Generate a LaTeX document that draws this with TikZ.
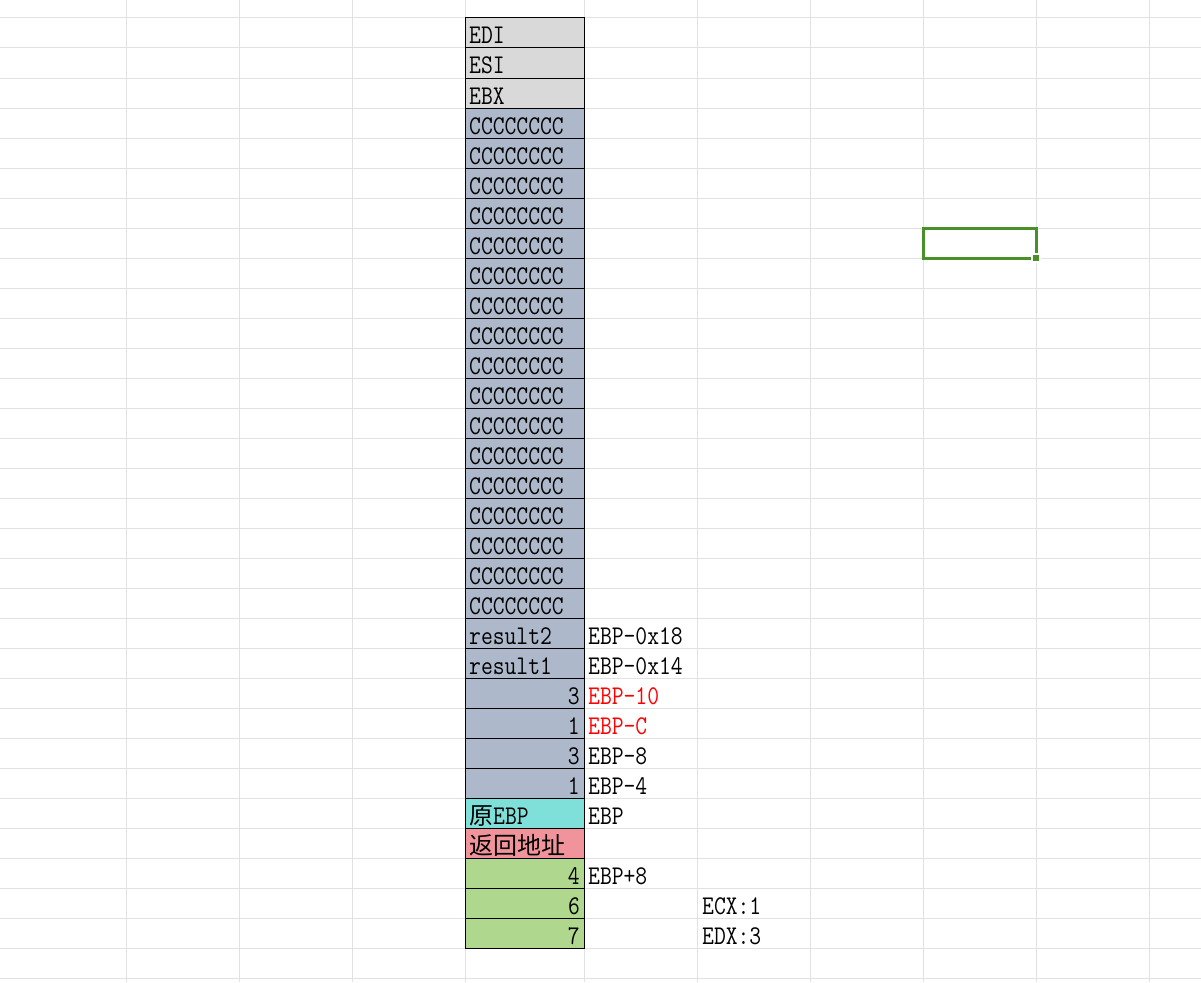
\documentclass[tikz,border=0pt]{standalone}
\usepackage{fontspec}
\usepackage{tikz}
\newfontfamily\cellfont[FakeStretch=0.85]{Latin Modern Mono}
\newfontfamily\cjk{Noto Sans CJK SC}

\begin{document}
\begin{tikzpicture}[x = 1pt, y = -1pt,
						gridline/.style={line width = 1pt, draw = gridgray},
						cell/.style={line width = 1pt, draw = black},
						celltext/.style={inner sep = 0pt, font = \fontsize{27}{27}\selectfont\cellfont},
						cjktext/.style={inner sep = 0pt, font = \fontsize{24}{24}\selectfont\cjk},
						]
	
		\definecolor{gridgray}{HTML}{E1E1E1}
		\definecolor{regfill}{HTML}{D9D9D9}
		\definecolor{stackfill}{HTML}{ADB9CA}
		\definecolor{ebpfill}{HTML}{7FDFD9}
		\definecolor{retfill}{HTML}{F0939A}
		\definecolor{argfill}{HTML}{AFD88E}
		\definecolor{selgreen}{HTML}{4A9028}
		
		% Page size
		\useasboundingbox[fill = white] (0, 0) rectangle (1201, 982);
		
		% Column lines of the sheet
		\draw[gridline] (126, 0) -- (126, 982);
		\draw[gridline] (239, 0) -- (239, 982);
		\draw[gridline] (352, 0) -- (352, 982);
		\draw[gridline] (465, 0) -- (465, 982);
		\draw[gridline] (584, 0) -- (584, 982);
		\draw[gridline] (697, 0) -- (697, 982);
		\draw[gridline] (810, 0) -- (810, 982);
		\draw[gridline] (923, 0) -- (923, 982);
		\draw[gridline] (1036, 0) -- (1036, 982);
		\draw[gridline] (1149, 0) -- (1149, 982);
		
		% Row lines of the sheet
		\draw[gridline] (0, 18) -- (1201, 18);
		\draw[gridline] (0, 48) -- (1201, 48);
		\draw[gridline] (0, 78) -- (1201, 78);
		\draw[gridline] (0, 108) -- (1201, 108);
		\draw[gridline] (0, 138) -- (1201, 138);
		\draw[gridline] (0, 168) -- (1201, 168);
		\draw[gridline] (0, 198) -- (1201, 198);
		\draw[gridline] (0, 228) -- (1201, 228);
		\draw[gridline] (0, 258) -- (1201, 258);
		\draw[gridline] (0, 288) -- (1201, 288);
		\draw[gridline] (0, 318) -- (1201, 318);
		\draw[gridline] (0, 348) -- (1201, 348);
		\draw[gridline] (0, 378) -- (1201, 378);
		\draw[gridline] (0, 408) -- (1201, 408);
		\draw[gridline] (0, 438) -- (1201, 438);
		\draw[gridline] (0, 468) -- (1201, 468);
		\draw[gridline] (0, 498) -- (1201, 498);
		\draw[gridline] (0, 528) -- (1201, 528);
		\draw[gridline] (0, 558) -- (1201, 558);
		\draw[gridline] (0, 588) -- (1201, 588);
		\draw[gridline] (0, 618) -- (1201, 618);
		\draw[gridline] (0, 648) -- (1201, 648);
		\draw[gridline] (0, 678) -- (1201, 678);
		\draw[gridline] (0, 708) -- (1201, 708);
		\draw[gridline] (0, 738) -- (1201, 738);
		\draw[gridline] (0, 768) -- (1201, 768);
		\draw[gridline] (0, 798) -- (1201, 798);
		\draw[gridline] (0, 828) -- (1201, 828);
		\draw[gridline] (0, 858) -- (1201, 858);
		\draw[gridline] (0, 888) -- (1201, 888);
		\draw[gridline] (0, 918) -- (1201, 918);
		\draw[gridline] (0, 948) -- (1201, 948);
		\draw[gridline] (0, 978) -- (1201, 978);
		
		% Stack cells
		\filldraw[cell, fill = regfill] (465, 18) rectangle (584, 48);
		\filldraw[cell, fill = regfill] (465, 48) rectangle (584, 78);
		\filldraw[cell, fill = regfill] (465, 78) rectangle (584, 108);
		\filldraw[cell, fill = stackfill] (465, 108) rectangle (584, 138);
		\filldraw[cell, fill = stackfill] (465, 138) rectangle (584, 168);
		\filldraw[cell, fill = stackfill] (465, 168) rectangle (584, 198);
		\filldraw[cell, fill = stackfill] (465, 198) rectangle (584, 228);
		\filldraw[cell, fill = stackfill] (465, 228) rectangle (584, 258);
		\filldraw[cell, fill = stackfill] (465, 258) rectangle (584, 288);
		\filldraw[cell, fill = stackfill] (465, 288) rectangle (584, 318);
		\filldraw[cell, fill = stackfill] (465, 318) rectangle (584, 348);
		\filldraw[cell, fill = stackfill] (465, 348) rectangle (584, 378);
		\filldraw[cell, fill = stackfill] (465, 378) rectangle (584, 408);
		\filldraw[cell, fill = stackfill] (465, 408) rectangle (584, 438);
		\filldraw[cell, fill = stackfill] (465, 438) rectangle (584, 468);
		\filldraw[cell, fill = stackfill] (465, 468) rectangle (584, 498);
		\filldraw[cell, fill = stackfill] (465, 498) rectangle (584, 528);
		\filldraw[cell, fill = stackfill] (465, 528) rectangle (584, 558);
		\filldraw[cell, fill = stackfill] (465, 558) rectangle (584, 588);
		\filldraw[cell, fill = stackfill] (465, 588) rectangle (584, 618);
		\filldraw[cell, fill = stackfill] (465, 618) rectangle (584, 648);
		\filldraw[cell, fill = stackfill] (465, 648) rectangle (584, 678);
		\filldraw[cell, fill = stackfill] (465, 678) rectangle (584, 708);
		\filldraw[cell, fill = stackfill] (465, 708) rectangle (584, 738);
		\filldraw[cell, fill = stackfill] (465, 738) rectangle (584, 768);
		\filldraw[cell, fill = stackfill] (465, 768) rectangle (584, 798);
		\filldraw[cell, fill = ebpfill] (465, 798) rectangle (584, 828);
		\filldraw[cell, fill = retfill] (465, 828) rectangle (584, 858);
		\filldraw[cell, fill = argfill] (465, 858) rectangle (584, 888);
		\filldraw[cell, fill = argfill] (465, 888) rectangle (584, 918);
		\filldraw[cell, fill = argfill] (465, 918) rectangle (584, 948);
		
		% Cell contents
		\node[celltext, anchor = base west] (edi) at (469, 44) {EDI};
		\node[celltext, anchor = base west] (esi) at (469, 74) {ESI};
		\node[celltext, anchor = base west] (ebx) at (469, 104) {EBX};
		\node[celltext, anchor = base west] (cc1) at (469, 134) {CCCCCCCC};
		\node[celltext, anchor = base west] (cc2) at (469, 164) {CCCCCCCC};
		\node[celltext, anchor = base west] (cc3) at (469, 194) {CCCCCCCC};
		\node[celltext, anchor = base west] (cc4) at (469, 224) {CCCCCCCC};
		\node[celltext, anchor = base west] (cc5) at (469, 254) {CCCCCCCC};
		\node[celltext, anchor = base west] (cc6) at (469, 284) {CCCCCCCC};
		\node[celltext, anchor = base west] (cc7) at (469, 314) {CCCCCCCC};
		\node[celltext, anchor = base west] (cc8) at (469, 344) {CCCCCCCC};
		\node[celltext, anchor = base west] (cc9) at (469, 374) {CCCCCCCC};
		\node[celltext, anchor = base west] (cc10) at (469, 404) {CCCCCCCC};
		\node[celltext, anchor = base west] (cc11) at (469, 434) {CCCCCCCC};
		\node[celltext, anchor = base west] (cc12) at (469, 464) {CCCCCCCC};
		\node[celltext, anchor = base west] (cc13) at (469, 494) {CCCCCCCC};
		\node[celltext, anchor = base west] (cc14) at (469, 524) {CCCCCCCC};
		\node[celltext, anchor = base west] (cc15) at (469, 554) {CCCCCCCC};
		\node[celltext, anchor = base west] (cc16) at (469, 584) {CCCCCCCC};
		\node[celltext, anchor = base west] (cc17) at (469, 614) {CCCCCCCC};
		\node[celltext, anchor = base west] (resultTwo) at (469, 644) {result2};
		\node[celltext, anchor = base west] (resultOne) at (469, 674) {result1};
		\node[celltext, anchor = base east] (localA) at (580, 704) {3};
		\node[celltext, anchor = base east] (localB) at (580, 734) {1};
		\node[celltext, anchor = base east] (localC) at (580, 764) {3};
		\node[celltext, anchor = base east] (localD) at (580, 794) {1};
		\node[cjktext, anchor = base west] (oldEbp) at (469, 824) {原\fontsize{27}{27}\selectfont\cellfont EBP};
		\node[cjktext, anchor = base west] (retAddr) at (469, 854) {返回地址};
		\node[celltext, anchor = base east] (argA) at (580, 884) {4};
		\node[celltext, anchor = base east] (argB) at (580, 914) {6};
		\node[celltext, anchor = base east] (argC) at (580, 944) {7};
		
		% Offsets beside the stack
		\node[celltext, anchor = base west] (offTwo) at (588, 644) {EBP-0x18};
		\node[celltext, anchor = base west] (offOne) at (588, 674) {EBP-0x14};
		\node[celltext, anchor = base west, text = red] (offA) at (588, 704) {EBP-10};
		\node[celltext, anchor = base west, text = red] (offB) at (588, 734) {EBP-C};
		\node[celltext, anchor = base west] (offC) at (588, 764) {EBP-8};
		\node[celltext, anchor = base west] (offD) at (588, 794) {EBP-4};
		\node[celltext, anchor = base west] (offEbp) at (588, 824) {EBP};
		\node[celltext, anchor = base west] (offArg) at (588, 884) {EBP+8};
		\node[celltext, anchor = base west] (ecx) at (702, 914) {ECX:1};
		\node[celltext, anchor = base west] (edx) at (702, 944) {EDX:3};
		
		% Selected cell
		\draw[selgreen, line width = 3pt] (923, 228) rectangle (1036, 258);
		\fill[white] (1031, 253) rectangle (1041, 263);
		\fill[selgreen] (1033, 255) rectangle (1039, 261);
		
	\end{tikzpicture}
\end{document}
